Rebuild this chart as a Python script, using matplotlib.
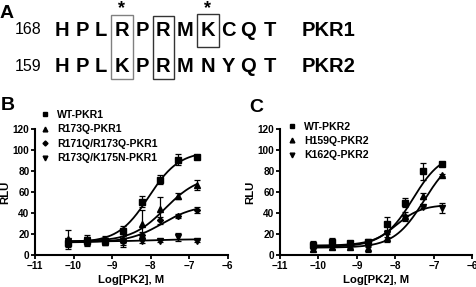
import numpy as np
import matplotlib
matplotlib.use("Agg")
import matplotlib.pyplot as plt
from matplotlib.patches import Rectangle
from matplotlib.lines import Line2D

plt.rcParams['font.family'] = ['Liberation Sans', 'DejaVu Sans']
plt.rcParams['font.weight'] = 'bold'

# ---------------- data ----------------
seq1_num = "168"
seq2_num = "159"
seq1 = ["H", "P", "L", "R", "P", "R", "M", "K", "C", "Q", "T"]
seq2 = ["H", "P", "L", "K", "P", "R", "M", "N", "Y", "Q", "T"]
seq1_name = "PKR1"
seq2_name = "PKR2"
star_cols = [3, 7]

log_conc = [-10.14, -9.66, -9.19, -8.71, -8.23, -7.75, -7.28, -6.8]

b_labels = ["WT-PKR1", "R173Q-PKR1", "R171Q/R173Q-PKR1", "R173Q/K175N-PKR1"]
b_wt = [11, 13, 13, 23, 51, 72, 91, 94]
b_wt_err = [3, 3, 3, 5, 5, 4, 5, 1.5]
b_r173q = [15, 14, 14, 15, 30, 44, 56, 67]
b_r173q_err = [9, 5, 4, 5, 13, 11, 3, 5]
b_r171q = [12, 12, 13, 13, 19, 33, 37, 43]
b_r171q_err = [2, 2, 2, 2, 3, 3, 2, 3]
b_k175n = [13, 14, 12, 13, 13, 13, 17, 13]
b_k175n_err = [2, 3, 2, 5, 2, 1, 4, 1]
# fit parameters (bottom, top, logEC50, hill)
b_fit = [(12, 99, -8.05, 1.1), (13, 76, -7.62, 1.0), (12, 48, -7.7, 1.0), (13, 15, -8.0, 1.0)]

c_labels = ["WT-PKR2", "H159Q-PKR2", "K162Q-PKR2"]
c_wt = [10, 12, 11, 12, 30, 50, 80, 87]
c_wt_err = [3, 4, 2, 3, 6, 4, 8, 2]
c_h159q = [6, 8, 8, 7, 16, 37, 56, 76]
c_h159q_err = [2, 2, 2, 4, 4, 4, 3, 1]
c_k162q = [8, 8, 9, 11, 20, 35, 46, 45]
c_k162q_err = [2, 2, 2, 3, 3, 3, 1, 5]
c_fit = [(9, 98, -7.55, 1.15), (7, 98, -7.25, 1.1), (8, 48, -8.0, 1.3)]

x_ticks = [-11, -10, -9, -8, -7, -6]
y_ticks = [0, 20, 40, 60, 80, 100, 120]

W, H = 477, 287
fig = plt.figure(figsize=(W / 100, H / 100), dpi=100)

def fx(px):
    return px / W

def fy(py):
    return 1 - py / H

# ---------------- panel A ----------------
fig.text(fx(0), fy(13), "A", fontsize=14, fontweight='bold', va='center', ha='left')
col_x = [62, 82, 101, 122, 142, 163, 185, 208, 228, 248, 270]
row_y = [30, 66.5]
for num, seq, name, ry in [(seq1_num, seq1, seq1_name, row_y[0]), (seq2_num, seq2, seq2_name, row_y[1])]:
    fig.text(fx(15), fy(ry), num, fontsize=11.5, fontweight='normal', va='center', ha='left')
    for cx, ch in zip(col_x, seq):
        fig.text(fx(cx), fy(ry), ch, fontsize=14.5, fontweight='bold', va='center', ha='center')
    fig.text(fx(302), fy(ry), name, fontsize=14.5, fontweight='bold', va='center', ha='left')
for c in star_cols:
    fig.text(fx(col_x[c]), fy(9), "*", fontsize=13, fontweight='bold', va='center', ha='center')

boxes = [(110.7, 15, 22, 64, '#808080'), (152.7, 15.5, 21.6, 63.5, '#333333'), (197.3, 14.5, 22, 32.3, '#333333')]
for bx, by, bw, bh, col in boxes:
    fig.patches.append(Rectangle((fx(bx), fy(by + bh)), bw / W, bh / H, transform=fig.transFigure,
                                 fill=False, edgecolor=col, linewidth=1.0))

# ---------------- panels B and C ----------------
def logistic(x, p):
    b, t, ec, h = p
    return b + (t - b) / (1 + 10 ** ((ec - x) * h))

def setup(ax):
    ax.set_xlim(-11, -6)
    ax.set_ylim(0, 120)
    ax.set_xticks(x_ticks)
    ax.set_yticks(y_ticks)
    for s in ['top', 'right']:
        ax.spines[s].set_visible(False)
    for s in ['left', 'bottom']:
        ax.spines[s].set_linewidth(1.5)
    ax.tick_params(direction='out', length=3, width=1.3, labelsize=7.2, pad=1)
    ax.set_xlabel("Log[PK2], M", fontsize=8.2, fontweight='bold', labelpad=3)
    ax.set_ylabel("RLU", fontsize=8.2, fontweight='bold', labelpad=2)
    ax.patch.set_alpha(0)

xs = np.linspace(log_conc[0], log_conc[-1], 200)

axB = fig.add_axes([fx(35), fy(255), 192.7 / W, 125.7 / H])
setup(axB)
b_series = [(b_wt, b_wt_err, 's', 3.8), (b_r173q, b_r173q_err, '^', 4.0),
            (b_r171q, b_r171q_err, 'D', 3.0), (b_k175n, b_k175n_err, 'v', 4.0)]
handles = []
for (vals, err, m, ms), p in zip(b_series, b_fit):
    axB.errorbar(log_conc, vals, yerr=err, fmt=m, ms=ms, color='black', ecolor='black',
                 elinewidth=0.9, capsize=2.5, capthick=0.9, clip_on=False)
    axB.plot(xs, logistic(xs, p), color='black', lw=1.3)
    handles.append(Line2D([], [], marker=m, ms=ms * 0.85, color='black', linestyle='none'))
axB.legend(handles, b_labels, loc='upper left', bbox_to_anchor=(fx(39), fy(110)),
           bbox_transform=fig.transFigure, frameon=False, handlelength=1.2,
           handletextpad=0.55, labelspacing=0.42, borderpad=0, borderaxespad=0,
           prop={'weight': 'bold', 'size': 7.6})

axC = fig.add_axes([fx(280), fy(255), 192.5 / W, 125.7 / H])
setup(axC)
c_series = [(c_wt, c_wt_err, 's', 3.8), (c_h159q, c_h159q_err, '^', 4.0), (c_k162q, c_k162q_err, 'v', 4.0)]
handles = []
for (vals, err, m, ms), p in zip(c_series, c_fit):
    axC.errorbar(log_conc, vals, yerr=err, fmt=m, ms=ms, color='black', ecolor='black',
                 elinewidth=0.9, capsize=2.5, capthick=0.9, clip_on=False)
    axC.plot(xs, logistic(xs, p), color='black', lw=1.3)
    handles.append(Line2D([], [], marker=m, ms=ms * 0.85, color='black', linestyle='none'))
axC.legend(handles, c_labels, loc='upper left', bbox_to_anchor=(fx(286), fy(121.5)),
           bbox_transform=fig.transFigure, frameon=False, handlelength=1.2,
           handletextpad=0.55, labelspacing=0.42, borderpad=0, borderaxespad=0,
           prop={'weight': 'bold', 'size': 7.6})

fig.text(fx(1), fy(105), "B", fontsize=14, fontweight='bold', va='center', ha='left')
fig.text(fx(249), fy(108), "C", fontsize=14, fontweight='bold', va='center', ha='left')

fig.savefig("out.png", dpi=100)
